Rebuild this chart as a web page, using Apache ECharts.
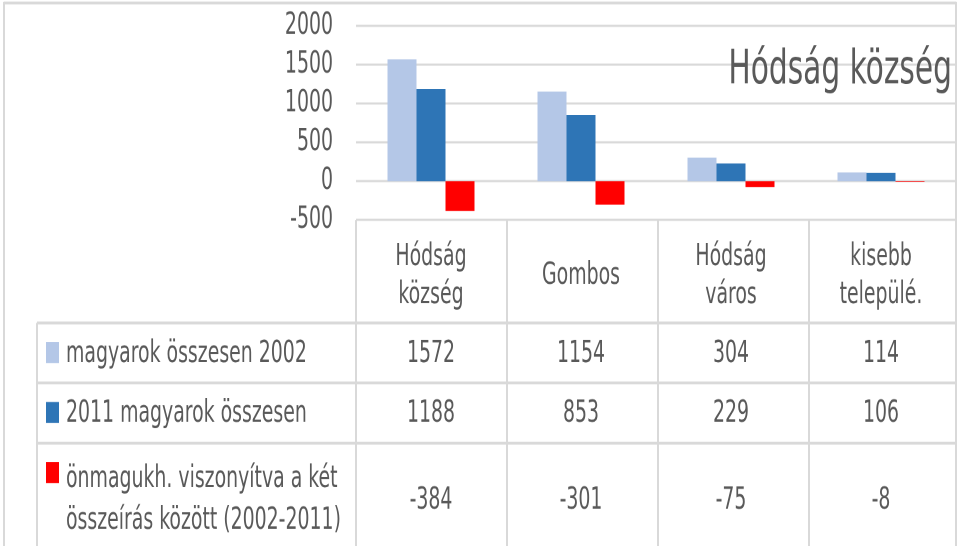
<!DOCTYPE html>
<html>
<head>
<meta charset="utf-8">
<script src="https://cdn.jsdelivr.net/npm/echarts@6/dist/echarts.min.js"></script>
<style>
  html, body { margin: 0; padding: 0; background: #fff; }
  #wrap { width: 960px; height: 546px; position: relative; overflow: hidden; }
  /* the reference picture is stretched vertically, so the chart is drawn flatter and scaled up */
  #chart { position: absolute; left: 0; top: 0; width: 960px; height: 380px; transform: scaleY(1.436842); transform-origin: 0 0; }
</style>
</head>
<body>
<div id="wrap"><div id="chart"></div></div>
<script>
// kategóriák és adatsorok
var categories = ['Hódság\nközség', 'Gombos', 'Hódság\nváros', 'kisebb\ntelepülé.'];
var seriesNames = ['magyarok összesen 2002', '2011 magyarok összesen', 'önmagukh. viszonyítva a két\nösszeírás között (2002-2011)'];
var hu2002 = [1572, 1154, 304, 114];
var hu2011 = [1188, 853, 229, 106];
var diff = [-384, -301, -75, -8];
var colors = ['#b4c7e7', '#2e75b6', '#ff0000'];

var S = 546 / 380;              // függőleges nyújtás
function Y(v) { return v / S; } // kép-pixel -> diagram-pixel

var FONT = '"DejaVu Sans Condensed", "Liberation Sans Narrow", sans-serif';
var TXT = '#595959';
var LINE = '#d9d9d9';

var chart = echarts.init(document.getElementById('chart'), null, { devicePixelRatio: 2 });

chart.setOption({
  animation: false,
  title: {
    text: 'Hódság község',
    right: 3,
    top: Y(40),
    textStyle: { fontFamily: FONT, fontSize: 33, fontWeight: 'normal', color: TXT }
  },
  grid: { left: 356, right: 4, top: Y(26), bottom: Y(546 - 220) },
  xAxis: {
    type: 'category',
    data: categories,
    axisLine: { show: false },
    axisTick: { show: false },
    axisLabel: {
      fontFamily: FONT, fontSize: 21, color: TXT,
      lineHeight: Y(38), verticalAlign: 'middle', margin: Y(56)
    }
  },
  yAxis: {
    type: 'value',
    min: -500, max: 2000, interval: 500,
    axisLabel: { fontFamily: FONT, fontSize: 21, color: TXT, margin: 23, formatter: function (v) { return String(v); } },
    splitLine: { lineStyle: { color: LINE, width: 1.5 } }
  },
  series: [
    { name: seriesNames[0], type: 'bar', data: hu2002, itemStyle: { color: colors[0] }, barGap: 0, barCategoryGap: '42%' },
    { name: seriesNames[1], type: 'bar', data: hu2011, itemStyle: { color: colors[1] } },
    { name: seriesNames[2], type: 'bar', data: diff, itemStyle: { color: colors[2] } }
  ]
});

// adattábla
var rows = [hu2002, hu2011, diff];
var rowTops = [323, 383, 443];
var valueY = [354, 414, 501];
var squareY = [342, 402, 462];
var colEdges = [356, 507, 658, 809, 956];
var els = [];
function line(x1, y1, x2, y2) {
  els.push({ type: 'line', silent: true, shape: { x1: x1, y1: Y(y1), x2: x2, y2: Y(y2) }, style: { stroke: LINE, lineWidth: 2 } });
}
// külső keret
line(4, 3, 956, 3);
line(4, 2, 4, 546);
line(956, 2, 956, 546);
// tábla vonalai
colEdges.forEach(function (x) { line(x, 220, x, 546); });
line(37, 323, 37, 546);
rowTops.forEach(function (y) { line(37, y, 956, y); });

rows.forEach(function (vals, r) {
  vals.forEach(function (v, i) {
    var x = chart.convertToPixel({ xAxisIndex: 0 }, i);
    els.push({ type: 'text', silent: true, x: x, y: Y(valueY[r]),
      style: { text: String(v), fontFamily: FONT, fontSize: 21, fill: TXT, align: 'center', verticalAlign: 'middle' } });
  });
  els.push({ type: 'rect', silent: true, shape: { x: 46, y: Y(squareY[r]), width: 13, height: Y(21) }, style: { fill: colors[r] } });
  els.push({ type: 'text', silent: true, x: 66, y: Y(r < 2 ? valueY[r] : 458),
    style: { text: seriesNames[r], fontFamily: FONT, fontSize: 21, lineHeight: Y(42), fill: TXT, align: 'left', verticalAlign: r < 2 ? 'middle' : 'top' } });
});

chart.setOption({ graphic: { elements: els } });
</script>
</body>
</html>
